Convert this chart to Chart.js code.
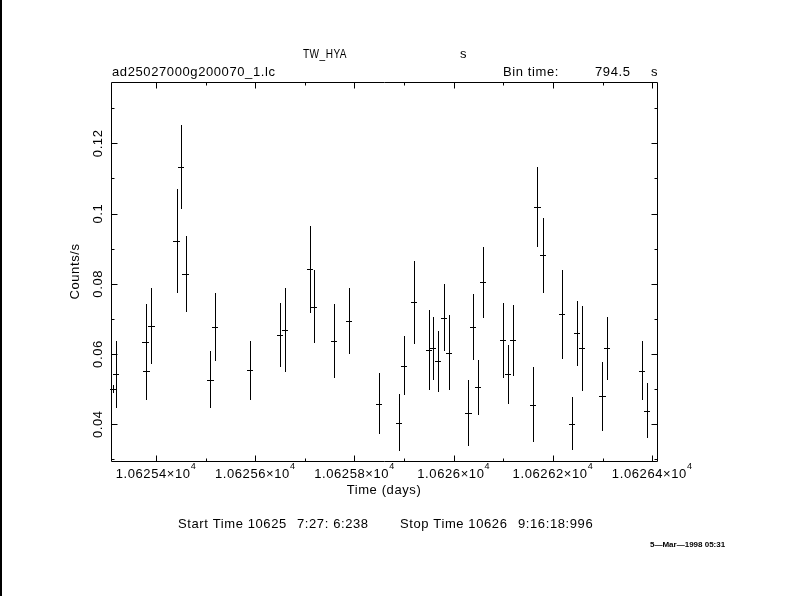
<!DOCTYPE html>
<html>
<head>
<meta charset="utf-8">
<script src="https://cdn.jsdelivr.net/npm/chart.js@4/dist/chart.umd.min.js"></script>
<style>
  html, body { margin: 0; padding: 0; background: #fff; }
  #wrap { position: relative; width: 789px; height: 596px; }
</style>
</head>
<body>
<div id="wrap"><canvas id="lc" width="789" height="596"></canvas></div>
<script>
// light curve, bin centres in days
const times = [
  10625.3144, 10625.3194, 10625.3793, 10625.3805, 10625.3905, 10625.4417, 10625.4504, 10625.4598,
  10625.5094, 10625.5194, 10625.5899, 10625.6504, 10625.6604, 10625.7108, 10625.7188, 10625.7591,
  10625.7893, 10625.8491, 10625.8894, 10625.9001, 10625.9202, 10625.9505, 10625.9585, 10625.9686,
  10625.9801, 10625.9907, 10626.0294, 10626.0391, 10626.0491, 10626.0592, 10626.0995, 10626.1096,
  10626.1196, 10626.1599, 10626.1688, 10626.1801, 10626.2183, 10626.2385, 10626.2485, 10626.2586,
  10626.2997, 10626.3090, 10626.3795, 10626.3895
];
const rates = [
  0.0500, 0.0542, 0.0633, 0.0553, 0.0680, 0.0921, 0.1132, 0.0828,
  0.0527, 0.0678, 0.0554, 0.0653, 0.0668, 0.0841, 0.0735, 0.0637,
  0.0694, 0.0459, 0.0405, 0.0567, 0.0747, 0.0611, 0.0616, 0.0579,
  0.0704, 0.0604, 0.0433, 0.0678, 0.0505, 0.0804, 0.0639, 0.0542,
  0.0639, 0.0456, 0.1018, 0.0881, 0.0713, 0.0402, 0.0659, 0.0616,
  0.0480, 0.0616, 0.0553, 0.0439
];
const errors = [
  0.0012, 0.0095, 0.0109, 0.0083, 0.0109, 0.0148, 0.0120, 0.0108,
  0.0082, 0.0097, 0.0084, 0.0091, 0.0120, 0.0125, 0.0104, 0.0105,
  0.0094, 0.0086, 0.0081, 0.0085, 0.0119, 0.0114, 0.0090, 0.0086,
  0.0095, 0.0107, 0.0094, 0.0094, 0.0079, 0.0102, 0.0107, 0.0084,
  0.0101, 0.0106, 0.0114, 0.0106, 0.0127, 0.0075, 0.0092, 0.0122,
  0.0098, 0.0089, 0.0084, 0.0078
];
const binTime = 794.5; // s

const xTicks = [10625.4, 10625.6, 10625.8, 10626.0, 10626.2, 10626.4];
const xTickLabels = ['1.06254', '1.06256', '1.06258', '1.0626', '1.06262', '1.06264'];
const xMinor = [10625.5, 10625.7, 10625.9, 10626.1, 10626.3];
const yTicks = [0.04, 0.06, 0.08, 0.1, 0.12];
const yTickLabels = ['0.04', '0.06', '0.08', '0.1', '0.12'];
const yMinor = [0.03, 0.05, 0.07, 0.09, 0.11, 0.13];
const xRange = [10625.3094, 10626.4097];
const yRange = [0.02954, 0.13747];

const FONT = '"Liberation Sans", Arial, sans-serif';
const halfBin = binTime / 2 / 86400;

function px(v) { return Math.round(v) + 0.5; }

const qdpPlot = {
  id: 'qdpPlot',
  beforeDraw(chart) {
    const ctx = chart.ctx;
    ctx.save();
    ctx.fillStyle = '#fff';
    ctx.fillRect(0, 0, chart.width, chart.height);
    ctx.fillStyle = '#000';
    ctx.fillRect(0, 0, 2, chart.height);
    ctx.restore();
  },
  afterDatasetsDraw(chart) {
    const ctx = chart.ctx, xs = chart.scales.x, ys = chart.scales.y;
    ctx.save();
    ctx.strokeStyle = '#000';
    ctx.lineWidth = 1;
    ctx.beginPath();
    times.forEach((t, i) => {
      const xp = px(xs.getPixelForValue(t));
      const yc = px(ys.getPixelForValue(rates[i]));
      ctx.moveTo(xp, Math.round(ys.getPixelForValue(rates[i] + errors[i])));
      ctx.lineTo(xp, Math.round(ys.getPixelForValue(rates[i] - errors[i])));
      ctx.moveTo(Math.round(xs.getPixelForValue(t - halfBin)) - 1, yc);
      ctx.lineTo(Math.round(xs.getPixelForValue(t + halfBin)) + 1, yc);
    });
    ctx.stroke();
    ctx.restore();
  },
  afterDraw(chart) {
    const ctx = chart.ctx, xs = chart.scales.x, ys = chart.scales.y;
    const a = chart.chartArea;
    const L = px(a.left), R = px(a.right), T = px(a.top), B = px(a.bottom);
    ctx.save();
    ctx.strokeStyle = '#000';
    ctx.lineWidth = 1;
    ctx.beginPath();
    ctx.rect(L, T, R - L, B - T);
    // inward ticks on all four sides
    const xt = (v, len) => {
      const p = px(xs.getPixelForValue(v));
      ctx.moveTo(p, B); ctx.lineTo(p, B - len);
      ctx.moveTo(p, T); ctx.lineTo(p, T + len);
    };
    const yt = (v, len) => {
      const p = px(ys.getPixelForValue(v));
      ctx.moveTo(L, p); ctx.lineTo(L + len, p);
      ctx.moveTo(R, p); ctx.lineTo(R - len, p);
    };
    xTicks.forEach(v => xt(v, 6));
    xMinor.forEach(v => xt(v, 3));
    yTicks.forEach(v => yt(v, 6));
    yMinor.forEach(v => yt(v, 3));
    ctx.stroke();

    ctx.fillStyle = '#000';
    ctx.textBaseline = 'middle';
    ctx.letterSpacing = '0.6px';

    // x tick labels  n.nnnnn×10^4
    xTicks.forEach((v, i) => {
      const main = xTickLabels[i] + '×10';
      ctx.font = '13px ' + FONT;
      const w1 = ctx.measureText(main).width;
      ctx.font = '9px ' + FONT;
      const w2 = ctx.measureText('4').width;
      const x0 = xs.getPixelForValue(v) - (w1 + w2) / 2;
      ctx.font = '13px ' + FONT;
      ctx.textAlign = 'left';
      ctx.fillText(main, x0, 474);
      ctx.font = '9px ' + FONT;
      ctx.fillText('4', x0 + w1, 467);
    });

    // y tick labels, rotated
    ctx.font = '13px ' + FONT;
    ctx.textAlign = 'center';
    yTicks.forEach((v, i) => {
      ctx.save();
      ctx.translate(98, ys.getPixelForValue(v));
      ctx.rotate(-Math.PI / 2);
      ctx.fillText(yTickLabels[i], 0, 0);
      ctx.restore();
    });

    ctx.save();
    ctx.translate(75, (a.top + a.bottom) / 2);
    ctx.rotate(-Math.PI / 2);
    ctx.fillText('Counts/s', 0, 0);
    ctx.restore();

    ctx.fillText('Time (days)', (a.left + a.right) / 2, 490);

    ctx.textAlign = 'left';
    ctx.fillText('TW_HYA', 303, 54, 44);
    ctx.fillText('s', 460, 54);
    ctx.fillText('ad25027000g200070_1.lc', 112, 72);
    ctx.fillText('Bin time:', 503, 72);
    ctx.fillText(String(binTime), 595, 72);
    ctx.fillText('s', 651, 72);
    ctx.fillText('Start Time 10625', 178, 524);
    ctx.fillText('7:27: 6:238', 297, 524);
    ctx.fillText('Stop Time 10626', 400, 524);
    ctx.fillText('9:16:18:996', 518, 524);
    ctx.letterSpacing = '0px';
    ctx.font = 'bold 8px ' + FONT;
    ctx.fillText('5\u2014Mar\u20141998 05:31', 650, 545);
    ctx.restore();
  }
};

new Chart(document.getElementById('lc').getContext('2d'), {
  type: 'scatter',
  data: {
    datasets: [{
      label: 'TW_HYA',
      data: times.map((t, i) => ({ x: t, y: rates[i] })),
      pointRadius: 0,
      showLine: false
    }]
  },
  options: {
    responsive: false,
    animation: false,
    events: [],
    layout: { padding: { left: 111, top: 82, right: 132, bottom: 135 } },
    plugins: { legend: { display: false }, tooltip: { enabled: false } },
    scales: {
      x: { type: 'linear', min: xRange[0], max: xRange[1], display: false },
      y: { type: 'linear', min: yRange[0], max: yRange[1], display: false }
    }
  },
  plugins: [qdpPlot]
});
</script>
</body>
</html>
